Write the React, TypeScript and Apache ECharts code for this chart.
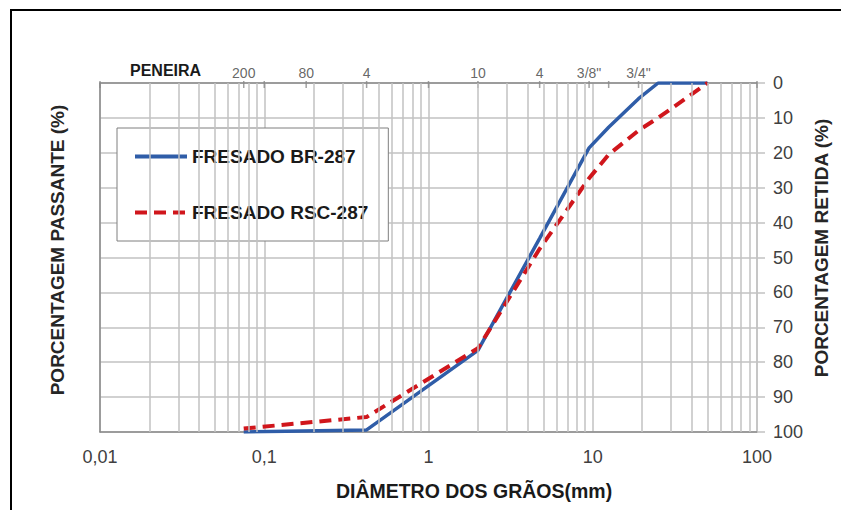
import React, { useEffect, useRef } from 'react';
import * as echarts from 'echarts';

// Grain-size distribution (sieve opening in mm vs % passing)
const sieveMm = [0.075, 0.42, 2, 4.75, 9.5, 12.5, 19, 25, 50];
const passingBR = [0, 0.6, 23.4, 55.5, 81.4, 87.3, 95.5, 100, 100];
const passingRSC = [1, 4.3, 24, 52.5, 72.7, 79.5, 86.4, 90, 100];
const seriesNames = ['FRESADO BR-287', 'FRESADO RSC-287'];

// Top "PENEIRA" scale
const peneiraMm = [0.075, 0.18, 0.42, 2, 4.75, 9.5, 19];
const peneiraLabels = ['200', '80', '4', '10', '4', '3/8"', '3/4"'];
const peneiraTickOnlyMm = [0.01, 0.1, 1, 12.5, 100];

// Bottom axis labels for 10^-2 .. 10^2
const xTickLabels = ['0,01', '0,1', '1', '10', '100'];

// Log-paper minor grid lines
const minorGridMm = [
  0.02, 0.03, 0.04, 0.05, 0.06, 0.07, 0.08, 0.09,
  0.2, 0.3, 0.4, 0.5, 0.6, 0.7, 0.8, 0.9,
  2, 3, 4, 5, 6, 7, 8, 9,
  20, 30, 40, 50, 60, 70, 80, 90,
];

const FONT = '"Liberation Sans", Arial, sans-serif';
const GRID_COLOR = '#c2c2c2';
const AXIS_COLOR = '#8a8a8a';
const BLUE = '#2f5da8';
const RED = '#d0161c';

export default function App() {
  const ref = useRef<HTMLDivElement>(null);

  useEffect(() => {
    if (!ref.current) return;
    const chart = echarts.init(ref.current, undefined, { renderer: 'svg' });

    const option: any = {
      animation: false,
      backgroundColor: '#ffffff',
      grid: { left: 100, right: 84, top: 83, bottom: 78, outerBoundsMode: 'none' },
      legend: {
        orient: 'vertical',
        left: 117,
        top: 128,
        padding: [19, 20, 19, 16],
        itemGap: 37,
        itemWidth: 52,
        itemHeight: 14,
        backgroundColor: '#ffffff',
        borderColor: '#7f7f7f',
        borderWidth: 1,
        itemStyle: { opacity: 0, borderWidth: 0 },
        lineStyle: { width: 4 },
        data: seriesNames,
        textStyle: { fontSize: 19, fontWeight: 'bold', color: '#1a1a1a', fontFamily: FONT },
      },
      xAxis: [
        {
          type: 'log',
          logBase: 10,
          min: 0.01,
          max: 100,
          position: 'bottom',
          axisLine: { show: true, onZero: false, lineStyle: { color: AXIS_COLOR, width: 1.5 } },
          axisTick: { show: false },
          axisLabel: {
            formatter: (v: number) => xTickLabels[Math.round(Math.log10(v)) + 2],
            color: '#404040',
            fontSize: 18,
            fontFamily: FONT,
            margin: 16,
          },
          splitLine: { show: true, lineStyle: { color: GRID_COLOR, width: 1.5 } },
        },
        {
          type: 'log',
          logBase: 10,
          min: 0.01,
          max: 100,
          position: 'top',
          axisLine: { show: true, onZero: false, lineStyle: { color: AXIS_COLOR, width: 1.5 } },
          axisTick: { show: false },
          axisLabel: { show: false },
          splitLine: { show: false },
        },
      ],
      yAxis: [
        {
          type: 'value',
          min: 0,
          max: 100,
          interval: 10,
          position: 'left',
          axisLine: { show: true, onZero: false, lineStyle: { color: AXIS_COLOR, width: 1.5 } },
          axisTick: { show: false },
          axisLabel: { show: false },
          splitLine: { show: true, lineStyle: { color: GRID_COLOR, width: 1.5 } },
        },
        {
          type: 'value',
          min: 0,
          max: 100,
          interval: 10,
          inverse: true,
          position: 'right',
          axisLine: { show: true, onZero: false, lineStyle: { color: GRID_COLOR, width: 1.5 } },
          axisTick: { show: true, length: 8, lineStyle: { color: GRID_COLOR, width: 1.5 } },
          axisLabel: { color: '#404040', fontSize: 18, fontFamily: FONT, margin: 16 },
          splitLine: { show: false },
        },
      ],
      series: [
        {
          name: '__grid',
          type: 'line',
          xAxisIndex: 0,
          yAxisIndex: 0,
          data: [[0.01, 0]],
          symbol: 'none',
          silent: true,
          z: 1,
          lineStyle: { opacity: 0 },
          markLine: {
            silent: true,
            symbol: ['none', 'none'],
            label: { show: false },
            lineStyle: { color: GRID_COLOR, width: 1.5, type: 'solid' },
            data: minorGridMm.map((v) => ({ xAxis: v })),
          },
        },
        {
          name: '__peneiraTicks',
          type: 'scatter',
          xAxisIndex: 0,
          yAxisIndex: 0,
          silent: true,
          clip: false,
          z: 4,
          symbol: 'rect',
          symbolSize: [1.5, 7],
          symbolOffset: [0, 1.5],
          itemStyle: { color: AXIS_COLOR },
          data: peneiraTickOnlyMm.map((x) => [x, 100]),
        },
        {
          name: '__peneira',
          type: 'scatter',
          xAxisIndex: 0,
          yAxisIndex: 0,
          silent: true,
          clip: false,
          z: 4,
          symbol: 'rect',
          symbolSize: [1.5, 7],
          symbolOffset: [0, 1.5],
          itemStyle: { color: AXIS_COLOR },
          label: {
            show: true,
            position: 'top',
            distance: 1,
            formatter: (p: any) => peneiraLabels[p.dataIndex],
            color: '#404040',
            fontSize: 14,
            fontFamily: FONT,
          },
          data: peneiraMm.map((x) => [x, 100]),
        },
        {
          name: seriesNames[0],
          type: 'line',
          xAxisIndex: 0,
          yAxisIndex: 0,
          symbol: 'none',
          z: 3,
          color: BLUE,
          lineStyle: { color: BLUE, width: 3.5 },
          data: sieveMm.map((x, i) => [x, passingBR[i]]),
        },
        {
          name: seriesNames[1],
          type: 'line',
          xAxisIndex: 0,
          yAxisIndex: 0,
          symbol: 'none',
          z: 3,
          color: RED,
          lineStyle: { color: RED, width: 4, type: [12, 7] },
          data: sieveMm.map((x, i) => [x, passingRSC[i]]),
        },
      ],
      graphic: [
        {
          type: 'rect',
          silent: true,
          shape: { x: 11, y: 10, width: 900, height: 600 },
          style: { fill: 'none', stroke: '#000000', lineWidth: 2 },
        },
        {
          type: 'text',
          silent: true,
          left: 130,
          top: 62,
          style: { text: 'PENEIRA', fill: '#1a1a1a', font: `bold 16px ${FONT}` },
        },
        {
          type: 'text',
          silent: true,
          x: 57,
          y: 250,
          rotation: Math.PI / 2,
          style: {
            text: 'PORCENTAGEM PASSANTE (%)',
            fill: '#262626',
            font: `bold 19px ${FONT}`,
            align: 'center',
            verticalAlign: 'middle',
          },
        },
        {
          type: 'text',
          silent: true,
          x: 821,
          y: 248,
          rotation: Math.PI / 2,
          style: {
            text: 'PORCENTAGEM RETIDA (%)',
            fill: '#262626',
            font: `bold 19px ${FONT}`,
            align: 'center',
            verticalAlign: 'middle',
          },
        },
        {
          type: 'text',
          silent: true,
          x: 474,
          y: 491,
          style: {
            text: 'DIÂMETRO DOS GRÃOS(mm)',
            fill: '#1a1a1a',
            font: `bold 19.5px ${FONT}`,
            align: 'center',
            verticalAlign: 'middle',
          },
        },
      ],
    };

    chart.setOption(option);
    return () => chart.dispose();
  }, []);

  return (
    <div
      ref={ref}
      style={{ position: 'fixed', left: 0, top: 0, width: 841, height: 510, background: '#fff' }}
    />
  );
}
